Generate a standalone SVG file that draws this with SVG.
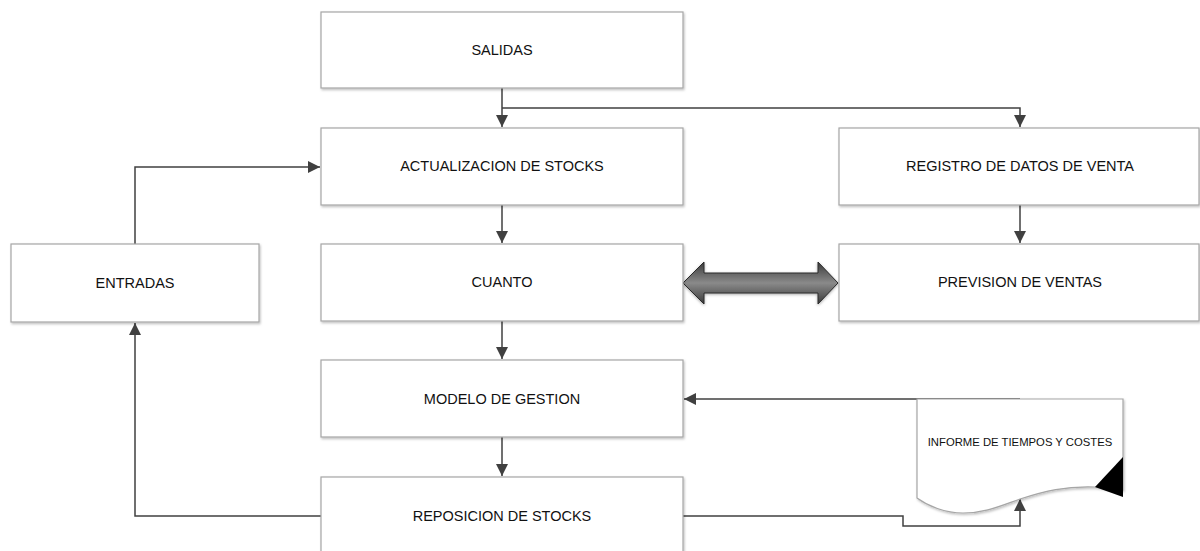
<svg xmlns="http://www.w3.org/2000/svg" width="1200" height="551" viewBox="0 0 1200 551">
  <defs>
    <style>
      .box { fill: #ffffff; stroke: #a6a6a6; stroke-width: 1.2; filter: url(#shadow); }
      .lbl { font-family: "Liberation Sans", Arial, sans-serif; font-size: 14.5px; fill: #111111; text-anchor: middle; }
      .small { font-size: 11.3px; }
      .conn { fill: none; stroke: #404040; stroke-width: 1.5; }
    </style>
    <filter id="shadow" x="-5%" y="-10%" width="110%" height="125%">
      <feDropShadow dx="1" dy="1.5" stdDeviation="1.2" flood-color="#000" flood-opacity="0.25"/>
    </filter>
    <filter id="glow" x="-10%" y="-30%" width="120%" height="160%">
      <feDropShadow dx="0" dy="1" stdDeviation="1.5" flood-color="#000" flood-opacity="0.35"/>
    </filter>
    <marker id="arr" markerUnits="userSpaceOnUse" markerWidth="12" markerHeight="12" refX="12" refY="6" orient="auto">
      <path d="M0,0 L12,6 L0,12 z" fill="#404040"/>
    </marker>
    <linearGradient id="dbl" x1="0" y1="0" x2="0" y2="1">
      <stop offset="0" stop-color="#3a3a3a"/>
      <stop offset="0.5" stop-color="#8a8a8a"/>
      <stop offset="1" stop-color="#3a3a3a"/>
    </linearGradient>
  </defs>

  <g id="connectors">
    <path class="conn" d="M502,88 V127" marker-end="url(#arr)"/>
    <path class="conn" d="M502,108 H1020 V127" marker-end="url(#arr)"/>
    <path class="conn" d="M502,205 V243" marker-end="url(#arr)"/>
    <path class="conn" d="M502,321 V359" marker-end="url(#arr)"/>
    <path class="conn" d="M502,437 V476" marker-end="url(#arr)"/>
    <path class="conn" d="M1020,205 V243" marker-end="url(#arr)"/>
    <path class="conn" d="M135,244 V167 H320" marker-end="url(#arr)"/>
    <path class="conn" d="M321,516 H135 V323" marker-end="url(#arr)"/>
    <path class="conn" d="M683,516 H903 V526 H1020 V499" marker-end="url(#arr)"/>
    <path class="conn" d="M1020,399 H684" marker-end="url(#arr)"/>
    <polygon id="double-arrow" points="683,283 704,262 704,273 818,273 818,262 838,283 818,304 818,293 704,293 704,304" fill="url(#dbl)" stroke="#2a2a2a" stroke-width="1" filter="url(#glow)"/>
  </g>

  <g id="salidas">
    <rect class="box" x="321" y="12" width="362" height="76"/>
    <text class="lbl" x="502" y="55">SALIDAS</text>
  </g>
  <g id="actualizacion">
    <rect class="box" x="321" y="128" width="362" height="77"/>
    <text class="lbl" x="502" y="171">ACTUALIZACION DE STOCKS</text>
  </g>
  <g id="registro">
    <rect class="box" x="839" y="128" width="360" height="77"/>
    <text class="lbl" x="1020" y="171">REGISTRO DE DATOS DE VENTA</text>
  </g>
  <g id="entradas">
    <rect class="box" x="11" y="244" width="248" height="78"/>
    <text class="lbl" x="135" y="288">ENTRADAS</text>
  </g>
  <g id="cuanto">
    <rect class="box" x="321" y="244" width="362" height="77"/>
    <text class="lbl" x="502" y="287">CUANTO</text>
  </g>
  <g id="prevision">
    <rect class="box" x="839" y="244" width="360" height="77"/>
    <text class="lbl" x="1020" y="287">PREVISION DE VENTAS</text>
  </g>
  <g id="modelo">
    <rect class="box" x="321" y="360" width="362" height="77"/>
    <text class="lbl" x="502" y="404">MODELO DE GESTION</text>
  </g>
  <g id="reposicion">
    <rect class="box" x="321" y="477" width="362" height="80"/>
    <text class="lbl" x="502" y="521">REPOSICION DE STOCKS</text>
  </g>
  <g id="informe">
    <path d="M917,399 H1123 V490 L1095,487 C1065,486 1045,491 1020,499 C1000,506 985,513 963,513 C945,513 928,506 917,498 Z" fill="#ffffff" stroke="#a6a6a6" stroke-width="1.2" filter="url(#shadow)"/>
    <polygon points="1095,487 1123,457 1123,497" fill="#000000"/>
    <text class="lbl small" x="1020" y="446">INFORME DE TIEMPOS Y COSTES</text>
  </g>
</svg>
